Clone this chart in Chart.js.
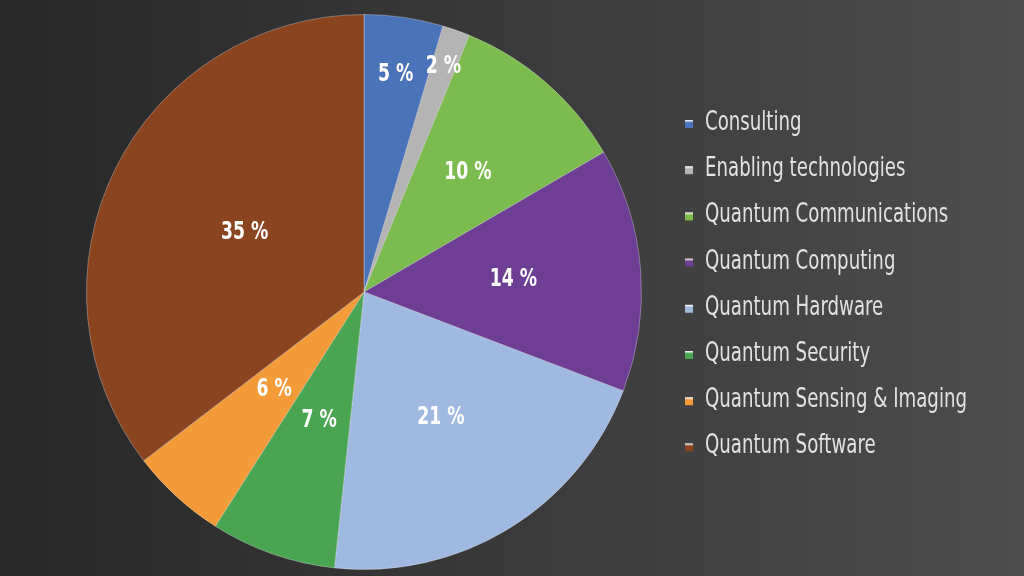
<!DOCTYPE html>
<html lang="en">
<head>
    <meta charset="UTF-8">
    <title>Quantum Market Share</title>
    <script src="https://cdn.jsdelivr.net/npm/chart.js"></script>
    <style>
        html, body {
            margin: 0;
            padding: 0;
        }
        body {
            width: 1024px;
            height: 576px;
            overflow: hidden;
            background: linear-gradient(to right, #272727, #4d4d4d);
        }
        #wrap {
            position: relative;
            width: 1024px;
            height: 576px;
        }
    </style>
</head>
<body>
    <div id="wrap">
        <canvas id="pieChart"></canvas>
    </div>

    <script>
        // segments, clockwise from 12 o'clock
        const segments = [
            'Consulting',
            'Enabling technologies',
            'Quantum Communications',
            'Quantum Computing',
            'Quantum Hardware',
            'Quantum Security',
            'Quantum Sensing & Imaging',
            'Quantum Software'
        ];
        // share in percent
        const shares = [4.6, 1.6, 10.4, 14.2, 20.9, 7.3, 5.6, 35.4];
        // printed labels
        const shareLabels = ['5 %', '2 %', '10 %', '14 %', '21 %', '7 %', '6 %', '35 %'];
        const sliceColors = ['#4a73b9', '#b4b4b4', '#7cbb4e', '#6e3d94', '#9fb9e0', '#4aa553', '#f29b38', '#8b4420'];

        const FONT = "'Liberation Sans Narrow', 'DejaVu Sans Condensed', 'Roboto', sans-serif";

        // label distance from centre as fraction of radius
        const labelDist = [0.79, 0.86, 0.57, 0.54, 0.53, 0.49, 0.48, 0.48];

        // the original uses a condensed face, squeeze text horizontally
        function squeezedText(ctx, text, x, y, sx) {
            ctx.save();
            ctx.translate(x, y);
            ctx.scale(sx, 1);
            ctx.fillText(text, 0, 0);
            ctx.restore();
        }

        const sliceLabels = {
            id: 'sliceLabels',
            afterDatasetsDraw(chart) {
                const ctx = chart.ctx;
                const meta = chart.getDatasetMeta(0);
                ctx.save();
                ctx.fillStyle = '#ffffff';
                ctx.font = '600 24px ' + FONT;
                ctx.textAlign = 'center';
                ctx.textBaseline = 'middle';
                meta.data.forEach((arc, i) => {
                    const a = (arc.startAngle + arc.endAngle) / 2;
                    const r = arc.outerRadius * labelDist[i];
                    squeezedText(ctx, shareLabels[i], arc.x + Math.cos(a) * r, arc.y + Math.sin(a) * r, 0.8);
                });
                ctx.restore();
            }
        };

        const sideLegend = {
            id: 'sideLegend',
            afterDraw(chart) {
                const ctx = chart.ctx;
                const x0 = 685, y0 = 123, step = 46.2;
                ctx.save();
                ctx.font = '27px ' + FONT;
                ctx.textBaseline = 'middle';
                const widest = Math.max(...segments.map(s => ctx.measureText(s).width));
                const sx = 262 / widest;
                segments.forEach((name, i) => {
                    const y = y0 + i * step;
                    const g = ctx.createLinearGradient(0, y - 3, 0, y + 5);
                    g.addColorStop(0, '#ffffff');
                    g.addColorStop(0.35, sliceColors[i]);
                    g.addColorStop(1, sliceColors[i]);
                    ctx.fillStyle = g;
                    ctx.fillRect(x0, y - 3, 8, 8);
                    ctx.fillStyle = '#e2e2e2';
                    squeezedText(ctx, name, x0 + 20, y, sx);
                });
                ctx.restore();
            }
        };

        new Chart(document.getElementById('pieChart'), {
            type: 'pie',
            data: {
                labels: segments,
                datasets: [{
                    data: shares,
                    backgroundColor: sliceColors,
                    borderColor: 'rgba(255,255,255,0.3)',
                    borderWidth: 1
                }]
            },
            options: {
                responsive: true,
                maintainAspectRatio: false,
                animation: false,
                layout: {
                    padding: { left: 86, right: 382, top: 14, bottom: 6 }
                },
                plugins: {
                    legend: { display: false },
                    tooltip: { enabled: false }
                }
            },
            plugins: [sliceLabels, sideLegend]
        });
    </script>
</body>
</html>
